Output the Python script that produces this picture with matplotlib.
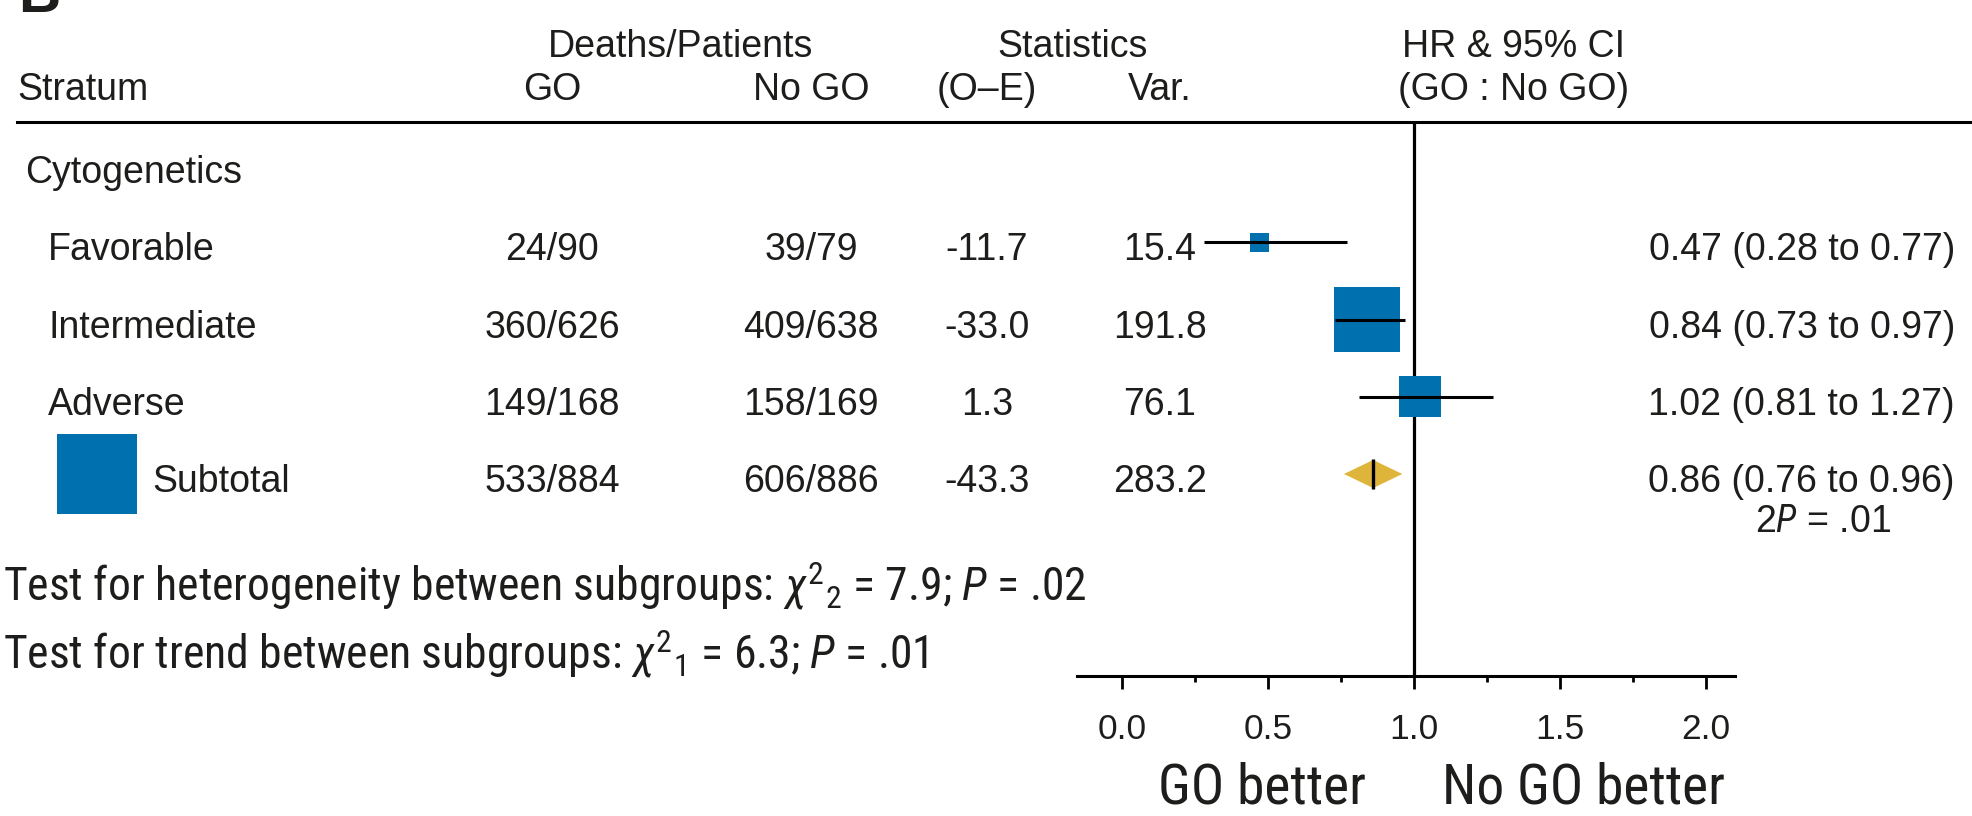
import matplotlib
matplotlib.use('Agg')

import numpy as np
import matplotlib.pyplot as plt
import matplotlib.transforms as mtransforms
from matplotlib import font_manager

# data
strata = ['Favorable', 'Intermediate', 'Adverse']
go_dp = ['24/90', '360/626', '149/168']
nogo_dp = ['39/79', '409/638', '158/169']
o_minus_e = [-11.7, -33.0, 1.3]
variance = [15.4, 191.8, 76.1]
hr = [0.47, 0.84, 1.02]
ci_low = [0.28, 0.73, 0.81]
ci_high = [0.77, 0.97, 1.27]

sub_go = '533/884'
sub_nogo = '606/886'
sub_oe = -43.3
sub_var = 283.2
sub_hr = 0.86
sub_low = 0.76
sub_high = 0.96

ticks = [0.0, 0.5, 1.0, 1.5, 2.0]
minor_ticks = [0.25, 0.75, 1.25, 1.75]

# look for a condensed sans for the footer and the "better" labels
narrow, stretch = 'Liberation Sans', 'normal'
cands = [f for f in font_manager.fontManager.ttflist
         if f.style == 'normal' and f.weight in (400, 'normal', 'regular')
         and (f.stretch in ('condensed', 'semi-condensed')
              or 'Narrow' in f.name or 'Condensed' in f.name)]
for pref in ['Liberation', 'Roboto', 'Noto Sans', 'Open Sans', 'Lato', 'DejaVu']:
    hit = [f for f in cands if f.name.startswith(pref)]
    if hit:
        narrow, stretch = hit[0].name, hit[0].stretch
        break

plt.rcParams['font.family'] = ['Liberation Sans', 'DejaVu Sans']
plt.rcParams['mathtext.fontset'] = 'custom'
plt.rcParams['mathtext.rm'] = narrow + ':stretch=' + stretch
plt.rcParams['mathtext.it'] = narrow + ':italic:stretch=' + stretch

TXT = '#1d1d1b'
BLUE = '#0070ae'
GOLD = '#deb53a'
W, H = 1972, 816
FS = 27

fig = plt.figure(figsize=(W / 100, H / 100), dpi=100)

# axes: top edge = header rule (y=122px), bottom edge = HR axis (y=676px)
top_px, bot_px = 122, 676
ax = fig.add_axes([0, 1 - bot_px / H, 1, (bot_px - top_px) / H])

# x: HR scale, 0.0 at 1122px, 292px per unit
x0, ppu = 1122, 292
ax.set_xlim(-x0 / ppu, (W - x0) / ppu)
# y: row index, row 0 at 165px, 77.25px per row
y0, ppr = 165, 77.25
ax.set_ylim((bot_px - y0) / ppr, (top_px - y0) / ppr)

blend = mtransforms.blended_transform_factory(ax.transAxes, ax.transData)
def px(x):
    return x / W

base = 18 / ppr  # baseline offset under the row centre

rows = np.arange(1, len(strata) + 1)
sub_row = len(strata) + 1

# squares: area proportional to variance
k = 11.7
ax.scatter(hr, rows, s=[k * v for v in variance], marker='s', color=BLUE,
           linewidths=0, zorder=2)
ax.hlines(rows, ci_low, ci_high, color='black', lw=2.2, zorder=3)

# subtotal diamond
dh = 14 / ppr
ax.fill([sub_low, sub_hr, sub_high, sub_hr],
        [sub_row, sub_row - dh, sub_row, sub_row + dh], color=GOLD, lw=0, zorder=2)
ax.vlines(sub_hr, sub_row - 0.2, sub_row + 0.2, color='black', lw=2.4, zorder=3)

# subtotal key square next to the label
ax.scatter([px(97)], [sub_row], s=k * sub_var, marker='s', color=BLUE,
           linewidths=0, transform=blend, clip_on=False)

ax.axvline(1.0, color='black', lw=2.3, zorder=1)

# spines
for side in ['left', 'right']:
    ax.spines[side].set_visible(False)
ax.spines['top'].set_bounds((17 - x0) / ppu, (W - x0) / ppu)
ax.spines['top'].set_linewidth(2.2)
ax.spines['bottom'].set_bounds(-0.154, 2.1)
ax.spines['bottom'].set_linewidth(2.2)
ax.set_yticks([])
ax.set_xticks(ticks)
ax.set_xticks(minor_ticks, minor=True)
ax.set_xticklabels([f'{t:.1f}' for t in ticks])
ax.tick_params(axis='x', which='major', length=9.4, width=2, pad=17,
               labelsize=25.5, labelcolor=TXT)
ax.tick_params(axis='x', which='minor', length=4.3, width=2)
ax.patch.set_alpha(0)

# table text
def row_text(x, row, s, ha='center', **kw):
    ax.text(px(x), row + base, s, ha=ha, va='baseline', transform=blend,
            fontsize=FS, color=TXT, **kw)

row_text(25, 0, 'Cytogenetics', ha='left')
for i, r in enumerate(rows):
    row_text(48, r, strata[i], ha='left')
    row_text(552, r, go_dp[i])
    row_text(811, r, nogo_dp[i])
    row_text(987, r, f'{o_minus_e[i]:.1f}')
    row_text(1160, r, f'{variance[i]:.1f}')
    row_text(1955, r, f'{hr[i]:.2f} ({ci_low[i]:.2f} to {ci_high[i]:.2f})', ha='right')

row_text(152, sub_row, 'Subtotal', ha='left')
row_text(552, sub_row, sub_go)
row_text(811, sub_row, sub_nogo)
row_text(987, sub_row, f'{sub_oe:.1f}')
row_text(1160, sub_row, f'{sub_var:.1f}')
row_text(1955, sub_row, f'{sub_hr:.2f} ({sub_low:.2f} to {sub_high:.2f})', ha='right')
ax.text(px(1823), sub_row + base + 40 / ppr, '2$P$ = .01', ha='center', va='baseline',
        transform=blend, fontsize=FS, color=TXT)

# header
def ftext(x, y, s, **kw):
    return fig.text(px(x), 1 - y / H, s, va='baseline', color=TXT, **kw)

ftext(681, 57, 'Deaths/Patients', ha='center', fontsize=FS)
ftext(1073, 57, 'Statistics', ha='center', fontsize=FS)
ftext(1514, 57, 'HR & 95% CI', ha='center', fontsize=FS)
ftext(17, 100, 'Stratum', ha='left', fontsize=FS)
ftext(552, 100, 'GO', ha='center', fontsize=FS)
ftext(811, 100, 'No GO', ha='center', fontsize=FS)
ftext(987, 100, '(O\u2013E)', ha='center', fontsize=FS)
ftext(1160, 100, 'Var.', ha='center', fontsize=FS)
ftext(1514, 100, '(GO : No GO)', ha='center', fontsize=FS)

# cropped panel letter
ftext(18, 12, 'B', ha='left', fontsize=42, fontweight='bold')

# footer and direction labels, sized to the widths seen in the reference
nk = dict(family=narrow, stretch=stretch, ha='left')
foot1 = ftext(3, 601, 'Test for heterogeneity between subgroups: $\\chi^{2}{}_{2}$ = 7.9; $P$ = .02',
              fontsize=25, **nk)
foot2 = ftext(3, 668, 'Test for trend between subgroups: $\\chi^{2}{}_{1}$ = 6.3; $P$ = .01',
              fontsize=25, **nk)
nk['ha'] = 'center'
better1 = ftext(1262, 803, 'GO better', fontsize=40, **nk)
better2 = ftext(1584, 803, 'No GO better', fontsize=40, **nk)

renderer = fig.canvas.get_renderer()
def fit(texts, target):
    w = texts[0].get_window_extent(renderer).width
    for t in texts:
        t.set_fontsize(t.get_fontsize() * target / w)

fit([foot1, foot2], 1084)
fit([better1, better2], 208)

fig.savefig('out.png', dpi=100)
